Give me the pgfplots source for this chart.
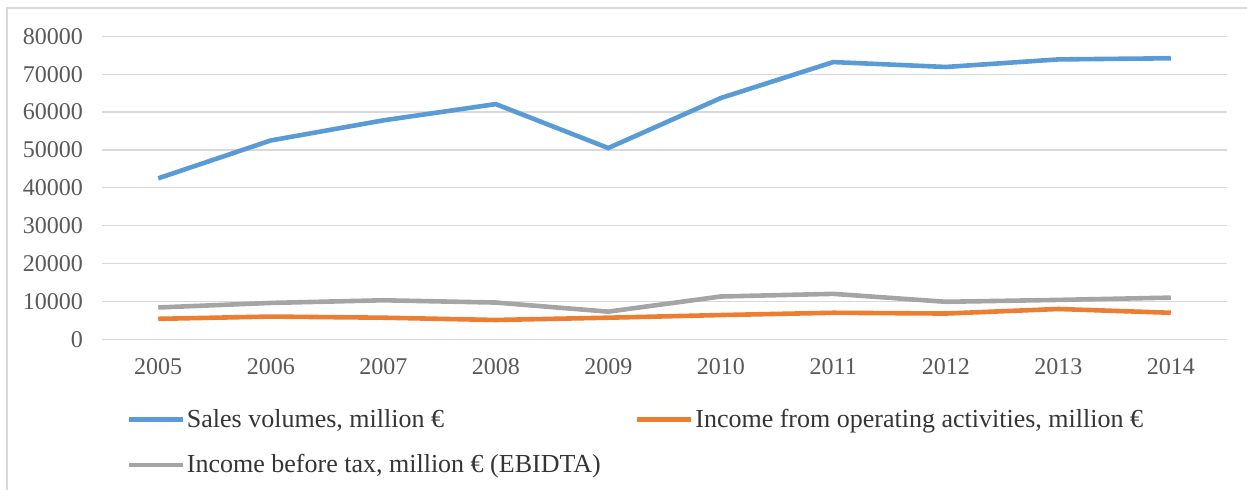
\documentclass[border=0pt]{standalone}
\usepackage{pgfplots}
\pgfplotsset{compat=1.18}
\usepackage{fontspec}
\setmainfont{Liberation Serif}
\definecolor{sales}{HTML}{5B9BD5}
\definecolor{oper}{HTML}{ED7D31}
\definecolor{ebt}{HTML}{A5A5A5}
\definecolor{gridc}{HTML}{D9D9D9}
\definecolor{tickc}{HTML}{595959}
\begin{document}
\begin{tikzpicture}
% 1 px of the reference = 0.5pt
\path[use as bounding box] (-51pt,-75.35pt) rectangle (572.5pt,169.65pt);
\draw[gridc, line width=1pt] (-47.5pt,-90pt) -- (-47.5pt,165.65pt) -- (590pt,165.65pt);
\begin{axis}[
    at={(0pt,0pt)}, anchor=south west,
    scale only axis,
    width=562.5pt, height=151.5pt,
    xmin=-0.5, xmax=9.5,
    ymin=0, ymax=80000,
    xtick={0,...,9},
    xticklabels={2005,2006,2007,2008,2009,2010,2011,2012,2013,2014},
    ytick={0,10000,...,80000},
    scaled y ticks=false,
    /pgf/number format/assume math mode=true,
    yticklabel={\pgfmathprintnumber[fixed,1000 sep={}]{\tick}},
    axis line style={draw=none},
    major tick length=0pt,
    ymajorgrids,
    grid style={gridc, line width=0.6pt},
    tick label style={font=\fontsize{12}{14}\selectfont, text=tickc},
    yticklabel style={xshift=-6pt},
    xticklabel style={yshift=-6pt},
    legend columns=2,
    legend cell align=left,
    legend style={draw=none, fill=none, at={(0.0213,-0.222)}, anchor=north west,
      font=\fontsize{13}{15}\selectfont, text=tickc!60!black,
      inner sep=0pt, row sep=10pt,
      /tikz/every even column/.append style={column sep=16pt},
      nodes={inner sep=1pt}},
    legend image code/.code={\draw[#1, line width=2.3pt] (0pt,0pt) -- (27pt,0pt);},
  ]
  \addplot[sales, line width=2.3pt] coordinates {
    (0,42500) (1,52500) (2,57800) (3,62100) (4,50500)
    (5,63700) (6,73200) (7,71900) (8,73900) (9,74200)
  };
  \addlegendentry{Sales volumes, million €}
  \addplot[oper, line width=2.3pt] coordinates {
    (0,5400) (1,6000) (2,5700) (3,5100) (4,5700)
    (5,6400) (6,7000) (7,6800) (8,8000) (9,7000)
  };
  \addlegendentry{Income from operating activities, million €}
  \addplot[ebt, line width=2.3pt] coordinates {
    (0,8400) (1,9600) (2,10300) (3,9700) (4,7300)
    (5,11300) (6,12000) (7,9900) (8,10400) (9,11000)
  };
  \addlegendentry{Income before tax, million € (EBIDTA)}
\end{axis}
\end{tikzpicture}
\end{document}
